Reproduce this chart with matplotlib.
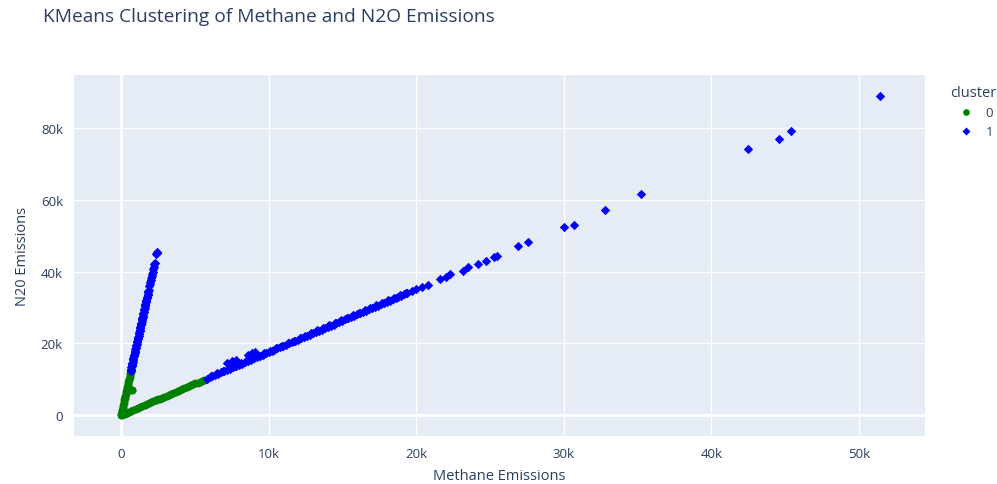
import matplotlib.pyplot as plt

# cluster 0 (green circles)
c0_x = [0, 20, 40, 60, 80, 110, 130, 160, 180, 210, 240, 260, 290, 310, 340,
        370, 390, 420, 450, 470, 500, 520, 550, 580, 600, 630, 650, 720, 770,
        100, 250, 400, 550, 700, 850, 1000, 1150, 1300, 1450, 1600, 1750, 1900,
        2050, 2200, 2350, 2400, 2500, 2650, 2800, 2950, 3100, 3250, 3400, 3550,
        3700, 3850, 4000, 4150, 4300, 4450, 4600, 4750, 4900, 5050, 5200, 5350,
        5500, 5650]
c0_y = [0, 300, 700, 1100, 1500, 2000, 2400, 2900, 3400, 3900, 4400, 4900, 5400,
        5800, 6300, 6800, 7300, 7800, 8300, 8800, 9300, 9700, 10200, 10700, 11200,
        11700, 12100, 7000, 7050,
        180, 440, 700, 960, 1230, 1490, 1750, 2010, 2280, 2540, 2800, 3070, 3320,
        3590, 3850, 4110, 4300, 4380, 4640, 4900, 5160, 5430, 5690, 5950, 6210,
        6480, 6740, 7000, 7260, 7530, 7790, 8050, 8310, 8580, 8840, 9100, 9360,
        9630, 9890]

# cluster 1 (blue diamonds)
c1_x = [660, 690, 715, 740, 770, 790, 820, 845, 870, 900, 925, 950, 980, 1000,
        1030, 1060, 1085, 1110, 1140, 1160, 1190, 1220, 1245, 1270, 1300, 1320,
        1350, 1380, 1400, 1430, 1460, 1485, 1510, 1540, 1570, 1600, 1630, 1660,
        1690, 1720, 1760, 1800, 1840, 1880, 1930, 1990, 2050, 2080, 2120, 2180,
        2260, 2290, 2400, 2420, 2450,
        675, 728, 780, 832, 885, 938, 990, 1045, 1098, 1150, 1205, 1258, 1310,
        1365, 1415, 1472, 1525, 1585, 1645, 1705, 1780, 1820, 1860, 1960, 2020,
        2150, 2220,
        5800, 6000, 6200, 6400, 6600, 6800, 7000, 7200, 7400, 7600, 7800, 8000,
        8200, 8400, 8600, 8800, 9000, 9200, 9400, 9600, 9800, 10000, 10200, 10400,
        10600, 10800, 11000, 11200, 11400, 11600, 11800, 12000, 12200, 12400,
        12600, 12800, 13000, 13200, 13400, 13600, 13800, 14000, 14200, 14400,
        14600, 14800, 15000, 15200, 15400, 15600, 15800, 16000, 16200, 16400,
        16600, 16800, 17000, 17200, 17400, 17600, 17800, 18000, 18200, 18400,
        18600, 18800, 19000, 19200, 19400, 19700, 20000,
        6100, 6500, 6900, 7300, 7700, 8100, 8500, 8900, 9300, 9700, 10100, 10500,
        10900, 11300, 11700, 12100, 12500, 12900, 13300, 13700, 14100, 14500,
        14900, 15300, 15700, 16100, 16500, 16900, 17300, 17700, 18100, 18500,
        18900, 19300,
        7200, 7500, 7800, 8600, 8900, 9100,
        20400, 20800, 21600, 22000, 22300, 23200, 23500, 24200, 24700, 25300,
        25500, 26900, 27600, 30000, 30700, 32800, 35200, 42500, 44600, 45400,
        51400]
c1_y = [12300, 12800, 13400, 13900, 14300, 14900, 15400, 15800, 16400, 16900,
        17300, 17900, 18400, 18800, 19300, 19800, 20300, 20700, 21300, 21700,
        22200, 22700, 23200, 23700, 24200, 24600, 25200, 25700, 26100, 26700,
        27200, 27600, 28200, 28700, 29200, 29800, 30300, 30900, 31500, 32000,
        32700, 33400, 34200, 34900, 35900, 37000, 38100, 38700, 39400, 40600,
        42100, 42500, 44800, 45100, 45400,
        12600, 13700, 14600, 15600, 16700, 17600, 18600, 19500, 20500, 21500,
        22500, 23500, 24400, 25500, 26400, 27400, 28500, 29500, 30600, 31800,
        33000, 33800, 34600, 36500, 37600, 40000, 41300,
        10180, 10530, 10880, 11230, 11580, 11930, 12290, 12640, 12990, 13340,
        13690, 14040, 14390, 14740, 15090, 15440, 15800, 16150, 16500, 16850,
        17200, 17550, 17900, 18250, 18600, 18950, 19310, 19660, 20010, 20360,
        20710, 21060, 21410, 21760, 22110, 22460, 22820, 23170, 23520, 23870,
        24220, 24570, 24920, 25270, 25620, 25970, 26330, 26680, 27030, 27380,
        27730, 28080, 28430, 28780, 29130, 29480, 29840, 30190, 30540, 30890,
        31240, 31590, 31940, 32290, 32640, 32990, 33350, 33700, 34050, 34570,
        35100,
        11000, 11700, 12400, 13100, 13800, 14500, 15200, 15900, 16600, 17300,
        18000, 18700, 19400, 20100, 20800, 21500, 22200, 22900, 23600, 24300,
        25000, 25700, 26400, 27100, 27800, 28500, 29200, 29900, 30600, 31300,
        32000, 32700, 33400, 34100,
        14500, 15000, 15300, 16800, 17300, 17500,
        35600, 36200, 37900, 38500, 39300, 40100, 41200, 42100, 42900, 44000,
        44300, 47100, 48200, 52500, 53100, 57200, 61500, 74300, 77100, 79200,
        88900]

x_ticks = [0, 10000, 20000, 30000, 40000, 50000]
x_labels = ["0", "10k", "20k", "30k", "40k", "50k"]
y_ticks = [0, 20000, 40000, 60000, 80000]
y_labels = ["0", "20k", "40k", "60k", "80k"]

txt = "#2a3f5f"
plt.rcParams['font.family'] = ['Open Sans', 'DejaVu Sans']

fig = plt.figure(figsize=(9.97, 4.85), dpi=100)
ax = fig.add_axes([74 / 997, 48 / 485, 851 / 997, 361 / 485])
ax.set_facecolor("#e5ecf6")
for s in ax.spines.values():
    s.set_visible(False)

ax.scatter(c0_x, c0_y, s=32, marker='o', color="#008000", linewidths=0,
           label="0", zorder=3)
ax.scatter(c1_x, c1_y, s=23, marker='D', color="#0000ff", linewidths=0,
           label="1", zorder=3)

ax.set_xlim(-3180, 54470)
ax.set_ylim(-5800, 94800)
ax.set_xticks(x_ticks, x_labels)
ax.set_yticks(y_ticks, y_labels)
ax.grid(True, color="white", linewidth=1)
ax.set_axisbelow(True)
ax.axhline(0, color="white", linewidth=2, zorder=1)
ax.axvline(0, color="white", linewidth=2, zorder=1)
ax.tick_params(length=0, labelsize=9.5, labelcolor=txt, pad=8)

ax.set_xlabel("Methane Emissions", fontsize=10.5, color=txt, labelpad=6)
ax.set_ylabel("N20 Emissions", fontsize=10.5, color=txt, labelpad=8)
fig.text(43 / 997, 1 - 17 / 485, "KMeans Clustering of Methane and N2O Emissions",
         fontsize=13.8, color=txt, va="center", ha="left")

leg = ax.legend(title="cluster", loc="upper left", bbox_to_anchor=(938 / 997, 1 - 74 / 485),
                bbox_transform=fig.transFigure, frameon=False, fontsize=9.5,
                title_fontsize=10.5, handletextpad=0.5, markerscale=0.85,
                labelspacing=0.45)
leg.get_title().set_color(txt)
for t in leg.get_texts():
    t.set_color(txt)

fig.savefig("out.png", dpi=100, facecolor="white")
